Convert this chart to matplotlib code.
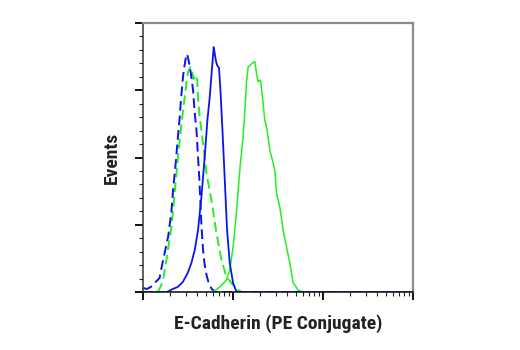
import matplotlib
matplotlib.use("Agg")
import matplotlib.pyplot as plt
from matplotlib.ticker import MultipleLocator, LogLocator, NullFormatter

# histogram traces: fluorescence (log scale) vs. events
blue_iso_x = [10.05, 11.0, 12.2, 13.5, 15.3, 16.3, 17.4, 19.0, 20.7, 21.6, 23.1, 24.1, 25.6, 26.3,
              27.4, 28.4, 29.9, 30.8, 31.7, 33.1, 34.5, 36.0, 37.6, 39.3, 40.9, 42.2, 43.5, 44.6,
              46.5, 48.5, 51.1, 53.8, 58.1, 64.4, 10000]
blue_iso_y = [3.2, 2.4, 3.9, 6.9, 10.6, 20.3, 29.2, 41.0, 59.6, 75.9, 95.9, 110.7, 130.0, 141.1,
              155.3, 164.9, 173.8, 176.8, 173.8, 167.8, 159.7, 150.0, 133.0, 120.4, 100.4, 85.5, 66.2, 49.9,
              31.4, 20.3, 12.1, 6.9, 2.4, 0.2, 0]

green_iso_x = [10, 14.6, 16.0, 17.0, 18.2, 19.3, 20.7, 22.5, 23.9, 25.6, 27.9, 30.4, 31.7, 33.7,
               35.3, 36.6, 38.5, 40.1, 41.1, 42.7, 46.5, 50.7, 57.6, 65.5, 74.5, 84.7, 100.3, 114.0,
               125.4, 10000]
green_iso_y = [0, 0.2, 5.4, 12.1, 24.0, 35.1, 48.4, 73.7, 92.9, 113.0, 135.2, 155.3, 163.4, 167.1,
               163.4, 158.2, 161.2, 157.5, 142.6, 130.0, 110.7, 88.5, 68.5, 44.0, 24.0, 11.3, 5.4, 1.7,
               0.2, 0]

blue_x = [10, 17.4, 18.8, 21.4, 24.3, 27.7, 31.4, 34.5, 37.6, 40.9, 44.6, 48.5, 52.0, 55.2, 58.6,
          61.1, 64.4, 66.5, 70.0, 72.6, 76.4, 81.1, 86.0, 92.1, 100.3, 109.3, 115, 10000]
blue_y = [0, 0, 0.4, 2.4, 3.9, 7.6, 14.3, 21.7, 31.4, 46.2, 70.7, 100.4, 127.8, 144.9, 167.1,
          182.0, 172.3, 168.6, 166.4, 150.0, 120.4, 83.3, 46.2, 21.7, 6.9, 0.4, 0, 0]

green_x = [10, 59.6, 71.3, 84.7, 92.1, 100.3, 109.3, 119.1, 129.5, 135.3, 141.3, 147.2, 156.6,
           164.8, 174.9, 182.5, 190.1, 202.3, 212.9, 225.9, 239.4, 256.4, 274.8, 291.6, 304.7,
           331.6, 360.6, 393.6, 428.5, 466.7, 530.2, 597.0, 10000]
green_y = [0, 0, 3.9, 9.1, 16.5, 33.6, 58.8, 90.7, 115.2, 133.0, 155.3, 167.1, 168.6,
           170.1, 171.1, 162.7, 156.2, 157.5, 144.9, 127.8, 120.4, 105.6, 98.1, 90.7, 73.7,
           63.3, 46.2, 33.6, 21.7, 6.9, 1.7, 0, 0]

BLUE = "#0a14f0"
GREEN = "#22f022"
font = ["Liberation Sans Narrow", "Roboto Condensed", "DejaVu Sans"]

fig = plt.figure(figsize=(5.2, 3.5), dpi=100)
ax = fig.add_axes([0.275, 0.165, 0.519, 0.770])

ax.plot(green_iso_x, green_iso_y, color=GREEN, lw=1.4, dashes=(5, 2.5))
ax.plot(blue_iso_x, blue_iso_y, color=BLUE, lw=1.4, dashes=(5, 2.5))
ax.plot(green_x, green_y, color=GREEN, lw=1.1)
ax.plot(blue_x, blue_y, color=BLUE, lw=1.3)

ax.set_xscale("log")
ax.set_xlim(10, 10000)
ax.set_ylim(0, 200)

ax.xaxis.set_major_locator(LogLocator(base=10, numticks=10))
ax.xaxis.set_minor_locator(LogLocator(base=10, subs=range(2, 10), numticks=50))
ax.xaxis.set_major_formatter(NullFormatter())
ax.xaxis.set_minor_formatter(NullFormatter())
ax.yaxis.set_major_locator(MultipleLocator(50))
ax.yaxis.set_minor_locator(MultipleLocator(10))
ax.yaxis.set_major_formatter(NullFormatter())

ax.tick_params(which="major", length=5.5, width=1.4, color="#111111", direction="out")
ax.tick_params(which="minor", length=2.8, width=0.8, color="#222222", direction="out")

for side in ("top", "right"):
    ax.spines[side].set_color("#8c8c8c")
    ax.spines[side].set_linewidth(1.6)
ax.spines["left"].set_color("#333333")
ax.spines["left"].set_linewidth(1.1)
ax.spines["bottom"].set_color("#111111")
ax.spines["bottom"].set_linewidth(1.1)

ax.set_xlabel("E-Cadherin (PE Conjugate)", family=font, fontweight="bold",
              fontstretch="condensed", fontsize=14, color="#222222", labelpad=7)
ax.set_ylabel("Events", family=font, fontweight="bold",
              fontstretch="condensed", fontsize=14, color="#222222", labelpad=7)

fig.savefig("out.png", dpi=100)
